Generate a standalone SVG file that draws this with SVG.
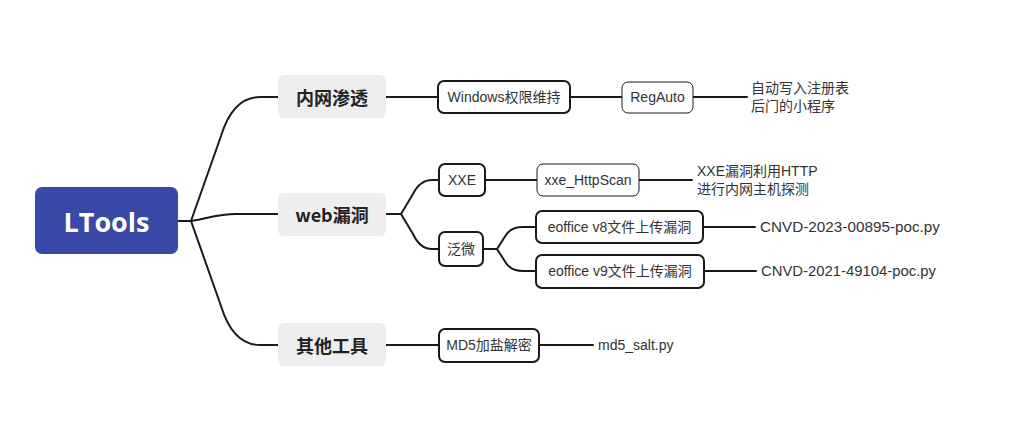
<svg xmlns="http://www.w3.org/2000/svg" width="1024" height="422" viewBox="0 0 1024 422">
<style>
.bg{fill:#ffffff}
.ln{fill:none;stroke:#1a1a1a;stroke-width:2;stroke-linecap:round;stroke-linejoin:round}
.root{fill:#3a48a8}
.l1{fill:#eeeeee}
.l2{fill:#ffffff;stroke:#1a1a1a;stroke-width:2}
.l3{fill:#ffffff;stroke:#1a1a1a;stroke-width:1}
.t{font-family:"Liberation Sans","Noto Sans CJK SC",sans-serif;font-size:14px;fill:#333333;dominant-baseline:central}
.tb{font-family:"Noto Sans CJK SC","Liberation Sans",sans-serif;font-size:18px;font-weight:bold;fill:#222222;dominant-baseline:central;text-anchor:middle}
.c{text-anchor:middle}
.tr{font-family:"Open Sans","Liberation Sans",sans-serif;font-size:27px;font-weight:bold;fill:#ffffff;text-anchor:middle;dominant-baseline:central}
</style>
<rect class="bg" x="0" y="0" width="1024" height="422"/>
<g id="connectors">
<path class="ln" d="M178,221 H191"/>
<path class="ln" d="M191,221 L221,136 Q233,97 260,97 H278"/>
<path class="ln" d="M191,221 C208,218 220,214 236,214 H278"/>
<path class="ln" d="M191,221 L221,306 Q233,345 260,345 H278"/>
<path class="ln" d="M386,97 H438"/>
<path class="ln" d="M570,97 H622"/>
<path class="ln" d="M693,97 H747"/>
<path class="ln" d="M386,214 H401"/>
<path class="ln" d="M401,214 L413,194 Q420,180 432,180 H439"/>
<path class="ln" d="M401,214 L413,234 Q420,249 432,249 H439"/>
<path class="ln" d="M485,180 H537"/>
<path class="ln" d="M639,180 H692"/>
<path class="ln" d="M483,249 H497"/>
<path class="ln" d="M497,249 L506,235 Q511,227 523,227 H536"/>
<path class="ln" d="M497,249 L506,263 Q511,271 523,271 H536"/>
<path class="ln" d="M703,227 H755"/>
<path class="ln" d="M704,271 H756"/>
<path class="ln" d="M386,345 H439"/>
<path class="ln" d="M539,345 H593"/>
</g>
<g id="root">
<rect class="root" x="35" y="187" width="143" height="67" rx="7"/>
<text class="tr" x="106.5" y="221">LTools</text>
</g>
<g id="n-neiwang">
<rect class="l1" x="278" y="75" width="108" height="43" rx="6"/>
<text class="tb" x="332" y="97">内网渗透</text>
</g>
<g id="n-web">
<rect class="l1" x="278" y="193" width="108" height="43" rx="6"/>
<text class="tb" x="332" y="214">web漏洞</text>
</g>
<g id="n-other">
<rect class="l1" x="278" y="323" width="108" height="43" rx="6"/>
<text class="tb" x="332" y="345">其他工具</text>
</g>
<g id="n-windows">
<rect class="l2" x="438" y="81" width="132" height="32" rx="6"/>
<text class="t c" x="504" y="97">Windows权限维持</text>
</g>
<g id="n-regauto">
<rect class="l3" x="622" y="82" width="71" height="31" rx="6"/>
<text class="t c" x="657.5" y="97">RegAuto</text>
</g>
<g id="n-regauto-desc">
<text class="t" x="751" y="88">自动写入注册表</text>
<text class="t" x="751" y="106">后门的小程序</text>
</g>
<g id="n-xxe">
<rect class="l2" x="439" y="164" width="46" height="32" rx="6"/>
<text class="t c" x="462" y="180">XXE</text>
</g>
<g id="n-xxescan">
<rect class="l3" x="537" y="164" width="102" height="32" rx="6"/>
<text class="t c" x="588" y="180">xxe_HttpScan</text>
</g>
<g id="n-xxe-desc">
<text class="t" x="697" y="171">XXE漏洞利用HTTP</text>
<text class="t" x="697" y="189">进行内网主机探测</text>
</g>
<g id="n-fanwei">
<rect class="l2" x="439" y="232" width="44" height="34" rx="6"/>
<text class="t c" x="461" y="249">泛微</text>
</g>
<g id="n-v8">
<rect class="l2" x="536" y="211" width="167" height="32" rx="6"/>
<text class="t c" x="619.5" y="227">eoffice v8文件上传漏洞</text>
</g>
<g id="n-v9">
<rect class="l2" x="536" y="255" width="168" height="33" rx="6"/>
<text class="t c" x="620" y="271">eoffice v9文件上传漏洞</text>
</g>
<g id="n-cnvd1">
<text class="t" x="760" y="227" textLength="180" lengthAdjust="spacingAndGlyphs">CNVD-2023-00895-poc.py</text>
</g>
<g id="n-cnvd2">
<text class="t" x="761" y="271" textLength="175" lengthAdjust="spacingAndGlyphs">CNVD-2021-49104-poc.py</text>
</g>
<g id="n-md5">
<rect class="l2" x="439" y="329" width="100" height="33" rx="6"/>
<text class="t c" x="489" y="345">MD5加盐解密</text>
</g>
<g id="n-md5salt">
<text class="t" x="598" y="345">md5_salt.py</text>
</g>
</svg>
